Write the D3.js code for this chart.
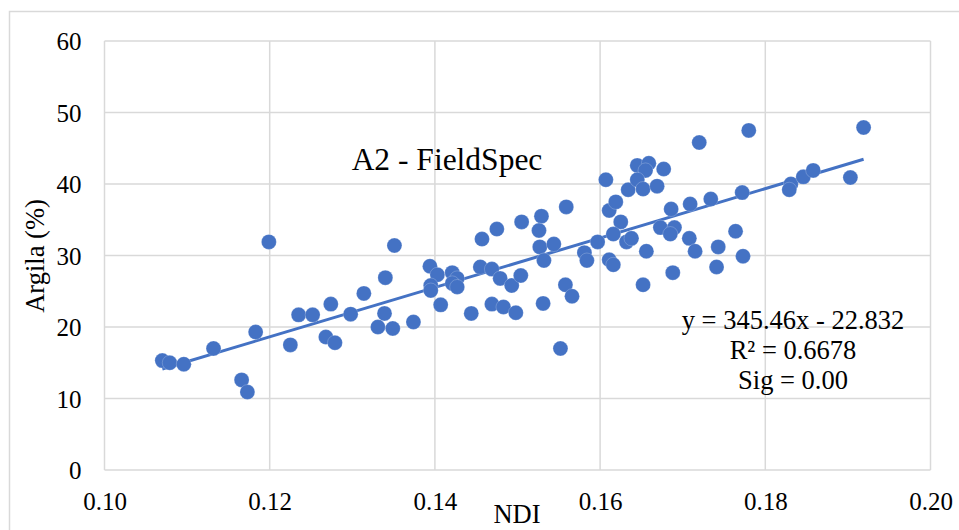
<!DOCTYPE html>
<html>
<head>
<meta charset="utf-8">
<script src="https://cdn.jsdelivr.net/npm/d3@7"></script>
<style>
  html, body { margin: 0; padding: 0; background: #fff; }
  svg { display: block; }
  text { font-family: "Liberation Serif", "Times New Roman", serif; fill: #000; }
</style>
</head>
<body>
<svg id="chart" width="959" height="530"></svg>
<script>
// ---- Data ----
const ndi = [
  0.1070, 0.1079, 0.1096, 0.1132, 0.1166, 0.1173, 0.1183, 0.1199, 0.1225, 0.1235,
  0.1252, 0.1274, 0.1268, 0.1279, 0.1298, 0.1314, 0.1340, 0.1339, 0.1331, 0.1349,
  0.1351, 0.1374, 0.1394, 0.1403, 0.1395, 0.1395, 0.1407, 0.1421, 0.1427, 0.1421,
  0.1427, 0.1444, 0.1455, 0.1457, 0.1469, 0.1479, 0.1469, 0.1483, 0.1493, 0.1498,
  0.1504, 0.1475, 0.1505, 0.1529, 0.1526, 0.1527, 0.1532, 0.1544, 0.1531, 0.1552,
  0.1558, 0.1566, 0.1559, 0.1581, 0.1584, 0.1597, 0.1607, 0.1611, 0.1619, 0.1625,
  0.1616, 0.1611, 0.1616, 0.1632, 0.1638, 0.1634, 0.1645, 0.1659, 0.1655, 0.1677,
  0.1645, 0.1652, 0.1669, 0.1656, 0.1652, 0.1686, 0.1673, 0.1690, 0.1685, 0.1709,
  0.1708, 0.1715, 0.1688, 0.1720, 0.1734, 0.1743, 0.1741, 0.1764, 0.1772, 0.1773,
  0.1780, 0.1831, 0.1829, 0.1846, 0.1858, 0.1903, 0.1919
];
const argila = [
  15.3, 15.0, 14.8, 17.0, 12.6, 10.9, 19.3, 31.9, 17.5, 21.7,
  21.7, 23.2, 18.6, 17.8, 21.8, 24.7, 26.9, 21.9, 20.0, 19.8,
  31.4, 20.7, 28.5, 27.3, 25.8, 25.1, 23.1, 27.6, 26.8, 26.1,
  25.6, 21.9, 28.4, 32.3, 28.1, 26.8, 23.2, 22.8, 25.8, 22.0,
  27.2, 33.7, 34.7, 35.5, 33.5, 31.2, 29.3, 31.6, 23.3, 17.0,
  25.9, 24.3, 36.8, 30.4, 29.3, 31.9, 40.6, 36.3, 37.5, 34.7,
  33.0, 29.4, 28.7, 31.9, 32.4, 39.2, 42.6, 42.9, 41.9, 42.1,
  40.6, 39.3, 39.7, 30.6, 25.9, 36.5, 33.9, 33.9, 33.0, 37.2,
  32.4, 30.6, 27.6, 45.8, 37.9, 31.2, 28.4, 33.4, 38.8, 29.9,
  47.5, 40.0, 39.2, 41.0, 41.9, 40.9, 47.9
];
const xTicks = [0.10, 0.12, 0.14, 0.16, 0.18, 0.20];
const yTicks = [0, 10, 20, 30, 40, 50, 60];
const slope = 345.46;
const intercept = -22.832;
const titleText = "A2 - FieldSpec";
const xTitle = "NDI";
const yTitle = "Argila (%)";
const eqLines = ["y = 345.46x - 22.832", "R² = 0.6678", "Sig = 0.00"];

// ---- Layout ----
const svg = d3.select("#chart");
const plot = { left: 104.5, right: 930.5, top: 41, bottom: 470 };
const blue = "#4472C4";
const gridCol = "#d9d9d9";

const x = d3.scaleLinear().domain([0.10, 0.20]).range([plot.left, plot.right]);
const y = d3.scaleLinear().domain([0, 60]).range([plot.bottom, plot.top]);

// outer chart frame
svg.append("rect")
  .attr("x", 9.5).attr("y", 11.5)
  .attr("width", 1000).attr("height", 1000)
  .attr("fill", "#fff").attr("stroke", gridCol).attr("stroke-width", 1.5);

// gridlines
const g = svg.append("g");
g.selectAll(".hg").data(yTicks).join("line")
  .attr("x1", plot.left).attr("x2", plot.right)
  .attr("y1", d => y(d)).attr("y2", d => y(d))
  .attr("stroke", gridCol).attr("stroke-width", 1.5);
g.selectAll(".vg").data(xTicks).join("line")
  .attr("y1", plot.top).attr("y2", plot.bottom)
  .attr("x1", d => x(d)).attr("x2", d => x(d))
  .attr("stroke", gridCol).attr("stroke-width", 1.5);

// axes (labels only, using d3 axes)
const xAxis = d3.axisBottom(x).tickValues(xTicks).tickFormat(d3.format(".2f")).tickSize(0).tickPadding(0);
const yAxis = d3.axisLeft(y).tickValues(yTicks).tickFormat(d3.format("d")).tickSize(0).tickPadding(0);

const gx = svg.append("g").attr("transform", `translate(0,${plot.bottom})`).call(xAxis);
gx.select(".domain").remove();
gx.selectAll("text")
  .attr("y", 40).attr("dy", null)
  .style("font-family", "'Liberation Serif', serif")
  .style("font-size", "25px").attr("fill", "#000");

const gy = svg.append("g").attr("transform", `translate(${plot.left},0)`).call(yAxis);
gy.select(".domain").remove();
gy.selectAll("text")
  .attr("x", -23).attr("dy", "0.34em")
  .style("font-family", "'Liberation Serif', serif")
  .style("font-size", "25px").attr("fill", "#000");

// trendline
const xMin = d3.min(ndi), xMax = d3.max(ndi);
svg.append("line")
  .attr("x1", x(xMin)).attr("y1", y(slope * xMin + intercept))
  .attr("x2", x(xMax)).attr("y2", y(slope * xMax + intercept))
  .attr("stroke", blue).attr("stroke-width", 3);

// points
const pts = ndi.map((v, i) => ({ x: v, y: argila[i] }));
svg.append("g").selectAll("circle").data(pts).join("circle")
  .attr("cx", d => x(d.x)).attr("cy", d => y(d.y)).attr("r", 7.5)
  .attr("fill", blue).attr("stroke", "#ffffff").attr("stroke-opacity", 0.35).attr("stroke-width", 0.6);

// title inside plot
svg.append("text")
  .attr("x", 447).attr("y", 170).attr("text-anchor", "middle")
  .style("font-size", "31.5px").text(titleText);

// equation
svg.append("g").selectAll("text").data(eqLines).join("text")
  .attr("x", 793).attr("y", (d, i) => 329 + i * 30)
  .attr("text-anchor", "middle").style("font-size", "26.5px")
  .text(d => d);

// axis titles
svg.append("text")
  .attr("x", 517).attr("y", 523).attr("text-anchor", "middle")
  .style("font-size", "26.5px").text(xTitle);

svg.append("text")
  .attr("transform", "translate(44,256) rotate(-90)")
  .attr("text-anchor", "middle").style("font-size", "26.5px").text(yTitle);
</script>
</body>
</html>
